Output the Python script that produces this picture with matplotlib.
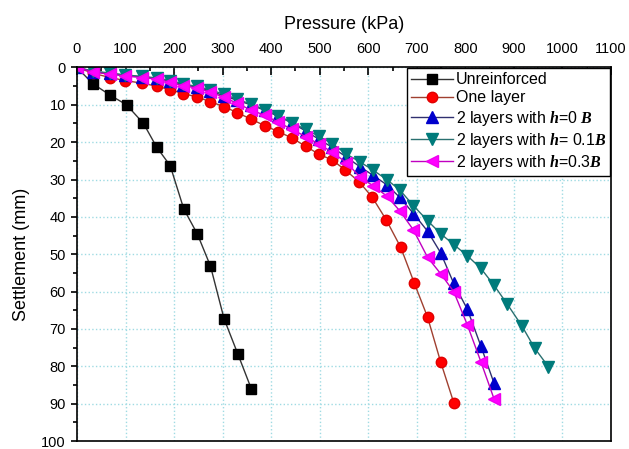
import matplotlib
matplotlib.use("Agg")
import matplotlib.pyplot as plt
from matplotlib.ticker import MultipleLocator

plt.rcParams['font.family'] = ['Liberation Sans', 'DejaVu Sans']
plt.rcParams['mathtext.fontset'] = 'custom'
plt.rcParams['mathtext.bf'] = 'Liberation Serif:italic:bold'
plt.rcParams['mathtext.rm'] = 'Liberation Sans'

# pressure (kPa) / settlement (mm) for each test
unr_p = [0, 32, 68, 102, 137, 164, 192, 220, 248, 275, 303, 331, 359]
unr_s = [0, 4.3, 7.4, 10.0, 15.0, 21.3, 26.3, 37.9, 44.6, 53.2, 67.3, 76.6, 86.0]

one_p = [0, 34, 68, 99, 133, 164, 192, 219, 247, 275, 303, 330, 358, 387,
         415, 443, 471, 498, 526, 553, 581, 608, 637, 667, 695, 722, 749, 776]
one_s = [0, 1.6, 2.7, 3.5, 4.2, 5.0, 6.0, 7.0, 7.9, 9.2, 10.5, 12.1, 13.8, 15.6,
         17.2, 18.9, 21.1, 23.2, 24.8, 27.5, 30.6, 34.7, 40.8, 48.2, 57.8, 66.8, 78.8, 89.7]

h0_p = [0, 34, 68, 99, 133, 164, 192, 219, 247, 275, 303, 330, 358, 387, 415, 443,
        471, 498, 526, 555, 583, 610, 638, 665, 693, 722, 749, 776, 804, 832, 859]
h0_s = [0, 1.1, 1.6, 2.1, 2.5, 2.9, 3.7, 4.6, 5.3, 6.3, 7.6, 8.8, 10.0, 11.5, 13.1, 14.9,
        17.0, 19.2, 21.4, 24.0, 26.6, 28.9, 31.4, 34.8, 39.1, 43.8, 49.6, 57.8, 64.7, 74.6, 84.5]

h01_p = [0, 34, 68, 99, 133, 164, 192, 219, 247, 275, 303, 330, 358, 387, 415, 443,
         471, 498, 526, 555, 583, 610, 638, 665, 693, 722, 749, 776, 804, 832, 859,
         886, 916, 943, 971]
h01_s = [0, 1.0, 1.5, 2.0, 2.4, 2.8, 3.5, 4.4, 5.1, 6.0, 7.2, 8.5, 9.8, 11.3, 12.9, 14.8,
         16.6, 18.4, 20.4, 23.2, 25.3, 27.5, 30.0, 32.8, 37.0, 41.0, 44.5, 47.4, 50.4, 53.8, 58.3,
         63.3, 69.1, 75.2, 80.1]

h03_p = [0, 34, 68, 99, 133, 164, 192, 219, 247, 275, 303, 330, 358, 387, 415, 443,
         471, 498, 526, 555, 583, 610, 638, 665, 693, 722, 749, 776, 804, 832, 859]
h03_s = [0, 1.3, 1.8, 2.3, 2.7, 3.1, 4.0, 4.9, 5.5, 6.6, 8.0, 9.6, 11.4, 12.8, 14.7, 16.6,
         18.5, 20.5, 22.7, 25.5, 29.3, 31.7, 34.4, 38.4, 43.5, 50.8, 55.2, 60.0, 68.9, 78.8, 88.7]

fig = plt.figure(figsize=(6.29, 4.49), dpi=100)
ax = fig.add_axes([0.1224, 0.0178, 0.849, 0.832])

ax.plot(unr_p, unr_s, color='#333333', lw=1, marker='s', ms=7,
        mfc='black', mec='black', label='Unreinforced')
ax.plot(one_p, one_s, color='#a04030', lw=1, marker='o', ms=7.5,
        mfc='#ff0000', mec='#e00000', label='One layer')
ax.plot(h0_p, h0_s, color='#303070', lw=1, marker='^', ms=8,
        mfc='#0000cc', mec='#0000cc', label=r'2 layers with $\mathbf{h}$=0 $\mathbf{B}$')
ax.plot(h01_p, h01_s, color='#2a7070', lw=1, marker='v', ms=8,
        mfc='#007b7b', mec='#007b7b', label=r'2 layers with $\mathbf{h}$= 0.1$\mathbf{B}$')
ax.plot(h03_p, h03_s, color='#c000c0', lw=1, marker='<', ms=8,
        mfc='#ff00ff', mec='#ee00ee', label=r'2 layers with $\mathbf{h}$=0.3$\mathbf{B}$')

ax.set_xlim(0, 1100)
ax.set_ylim(100, 0)
ax.xaxis.set_major_locator(MultipleLocator(100))
ax.xaxis.set_minor_locator(MultipleLocator(50))
ax.yaxis.set_major_locator(MultipleLocator(10))
ax.yaxis.set_minor_locator(MultipleLocator(5))
ax.xaxis.tick_top()
ax.xaxis.set_label_position('top')
ax.tick_params(axis='x', which='major', direction='in', length=6, width=1.2,
               labelsize=10.5, pad=8.5)
ax.tick_params(axis='x', which='minor', direction='in', length=3, width=1.2)
ax.tick_params(axis='y', which='major', direction='out', length=4, width=1.2,
               labelsize=10.5, pad=4)
ax.tick_params(axis='y', which='minor', direction='out', length=3, width=1.2)

ax.grid(True, which='major', color='#9fdbe3', linestyle=':', linewidth=1)
ax.set_axisbelow(True)
for side in ax.spines.values():
    side.set_linewidth(1.2)

ax.set_xlabel('Pressure (kPa)', fontsize=13, labelpad=9)
ax.set_ylabel('Settlement (mm)', fontsize=13, labelpad=8)

leg = ax.legend(loc='upper right', bbox_to_anchor=(1.0, 1.0), borderaxespad=0.05,
                fontsize=11.5, frameon=True, fancybox=False, framealpha=1,
                edgecolor='black', handlelength=2.6, handletextpad=0.2,
                labelspacing=0.2, borderpad=0.25)
leg.get_frame().set_linewidth(1)

fig.savefig('out.png', dpi=100)
